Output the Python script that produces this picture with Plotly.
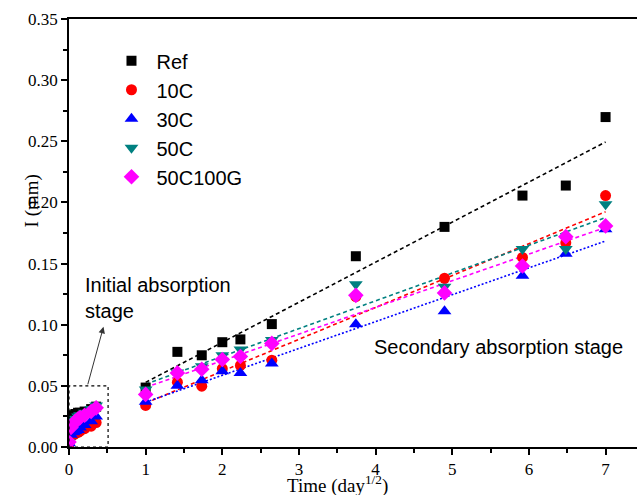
import numpy as np
import plotly.graph_objects as go

# ---- data ----
x_init = [0.0, 0.026, 0.059, 0.083, 0.118, 0.144, 0.204, 0.289, 0.354]
x_sec = [1.0, 1.414, 1.732, 2.0, 2.236, 2.646, 3.742, 4.899, 5.916, 6.481, 7.0]

names = ["Ref", "10C", "30C", "50C", "50C100G"]

init_ref = [0.005, 0.022, 0.026, 0.027, 0.028, 0.028, 0.029, 0.031, 0.033]
init_10c = [0.002, 0.008, 0.010, 0.011, 0.012, 0.013, 0.015, 0.017, 0.020]
init_30c = [0.003, 0.010, 0.012, 0.013, 0.014, 0.016, 0.018, 0.021, 0.025]
init_50c = [0.004, 0.018, 0.021, 0.023, 0.025, 0.026, 0.028, 0.031, 0.034]
init_50c100g = [0.004, 0.016, 0.019, 0.021, 0.023, 0.024, 0.026, 0.029, 0.032]

sec_ref = [0.0486, 0.0778, 0.0750, 0.0857, 0.0880, 0.1005, 0.1560, 0.1800, 0.2056, 0.2138, 0.2698]
sec_10c = [0.0340, 0.0530, 0.0497, 0.0640, 0.0667, 0.0710, 0.1230, 0.1380, 0.1550, 0.1670, 0.2056]
sec_30c = [0.0370, 0.0500, 0.0546, 0.0620, 0.0606, 0.0683, 0.1003, 0.1110, 0.1400, 0.1580, 0.1780]
sec_50c = [0.0470, 0.0610, 0.0660, 0.0750, 0.0797, 0.0874, 0.1330, 0.1310, 0.1620, 0.1620, 0.1985]
sec_50c100g = [0.0430, 0.0606, 0.0636, 0.0716, 0.0740, 0.0847, 0.1240, 0.1260, 0.1480, 0.1720, 0.1808]

init_all = [init_ref, init_10c, init_30c, init_50c, init_50c100g]
sec_all = [sec_ref, sec_10c, sec_30c, sec_50c, sec_50c100g]

colors = ["#000000", "#ff0000", "#0000ff", "#008080", "#ff00ff"]
symbols = ["square", "circle", "triangle-up", "triangle-down", "diamond"]
sizes = [10, 11, 12, 12, 12]
dashes = ["4px,3px", "4px,3px", "2px,2px", "4px,3px", "4px,3px"]

fig = go.Figure()

# fit lines first (drawn under markers)
for i in range(5):
    k, b = np.polyfit(x_sec, sec_all[i], 1)
    xs = [x_sec[0], x_sec[-1]]
    fig.add_trace(go.Scatter(
        x=xs, y=[k * v + b for v in xs], mode="lines",
        line=dict(color=colors[i], width=1.6, dash=dashes[i]),
        showlegend=False, hoverinfo="skip"))

for i in range(5):
    fig.add_trace(go.Scatter(
        x=x_init + x_sec, y=init_all[i] + sec_all[i], mode="markers", name=names[i],
        marker=dict(color=colors[i], symbol=symbols[i], size=sizes[i], line=dict(width=0))))

serif = "Liberation Serif, Times New Roman, serif"
sans = "Liberation Sans, Arial, sans-serif"

fig.add_shape(type="rect", x0=0, y0=0, x1=0.51, y1=0.05,
              line=dict(color="black", width=1.2, dash="dot"))

fig.add_annotation(x=0.45, y=0.0983, ax=0.24, ay=0.05, xref="x", yref="y",
                   axref="x", ayref="y", text="", showarrow=True,
                   arrowhead=2, arrowsize=1.3, arrowwidth=1, arrowcolor="#333333")
fig.add_annotation(x=0.18, y=0.1435, xref="x", yref="y", xanchor="left", yanchor="top",
                   text="Initial absorption<br>stage", showarrow=False, align="left",
                   font=dict(family=sans, size=20, color="black"))
fig.add_annotation(x=3.95, y=0.0820, xref="x", yref="y", xanchor="left", yanchor="middle",
                   text="Secondary absorption stage", showarrow=False,
                   font=dict(family=sans, size=20, color="black"))

# axis titles
fig.add_annotation(x=3.5, y=-0.087, xref="x", yref="paper", xanchor="center",
                   yanchor="middle", showarrow=False,
                   text="Time (day<sup>1/2</sup>)",
                   font=dict(family=serif, size=19, color="black"))
fig.add_annotation(x=-0.066, y=0.575, xref="paper", yref="paper", xanchor="center",
                   yanchor="middle", showarrow=False, textangle=-90,
                   text="I (mm)",
                   font=dict(family=serif, size=19, color="black"))

fig.update_layout(
    width=637, height=495,
    margin=dict(l=69, r=0, t=19, b=48),
    paper_bgcolor="white", plot_bgcolor="white",
    legend=dict(x=0.066, y=0.948, xanchor="left", yanchor="top",
                font=dict(family=sans, size=20, color="black"),
                bgcolor="rgba(0,0,0,0)", tracegroupgap=0, itemwidth=40),
    xaxis=dict(range=[0, 7.41], showgrid=False, zeroline=False,
               showline=True, linecolor="black", linewidth=1.5, mirror=True,
               ticks="outside", ticklen=6, tickwidth=1.5, tickcolor="black",
               tickvals=[0, 1, 2, 3, 4, 5, 6, 7],
               minor=dict(tickvals=[0.5, 1.5, 2.5, 3.5, 4.5, 5.5, 6.5], ticks="outside",
                          ticklen=4, tickwidth=1.5, tickcolor="black"),
               tickfont=dict(family=serif, size=17, color="black")),
    yaxis=dict(range=[0, 0.35], showgrid=False, zeroline=False,
               showline=True, linecolor="black", linewidth=1.5,
               ticks="outside", ticklen=6, tickwidth=1.5, tickcolor="black",
               dtick=0.05, tickformat=".2f",
               minor=dict(dtick=0.025, ticks="outside", ticklen=4, tickwidth=1.5,
                          tickcolor="black"),
               tickfont=dict(family=serif, size=17, color="black")),
)

fig.write_html("out.html")
